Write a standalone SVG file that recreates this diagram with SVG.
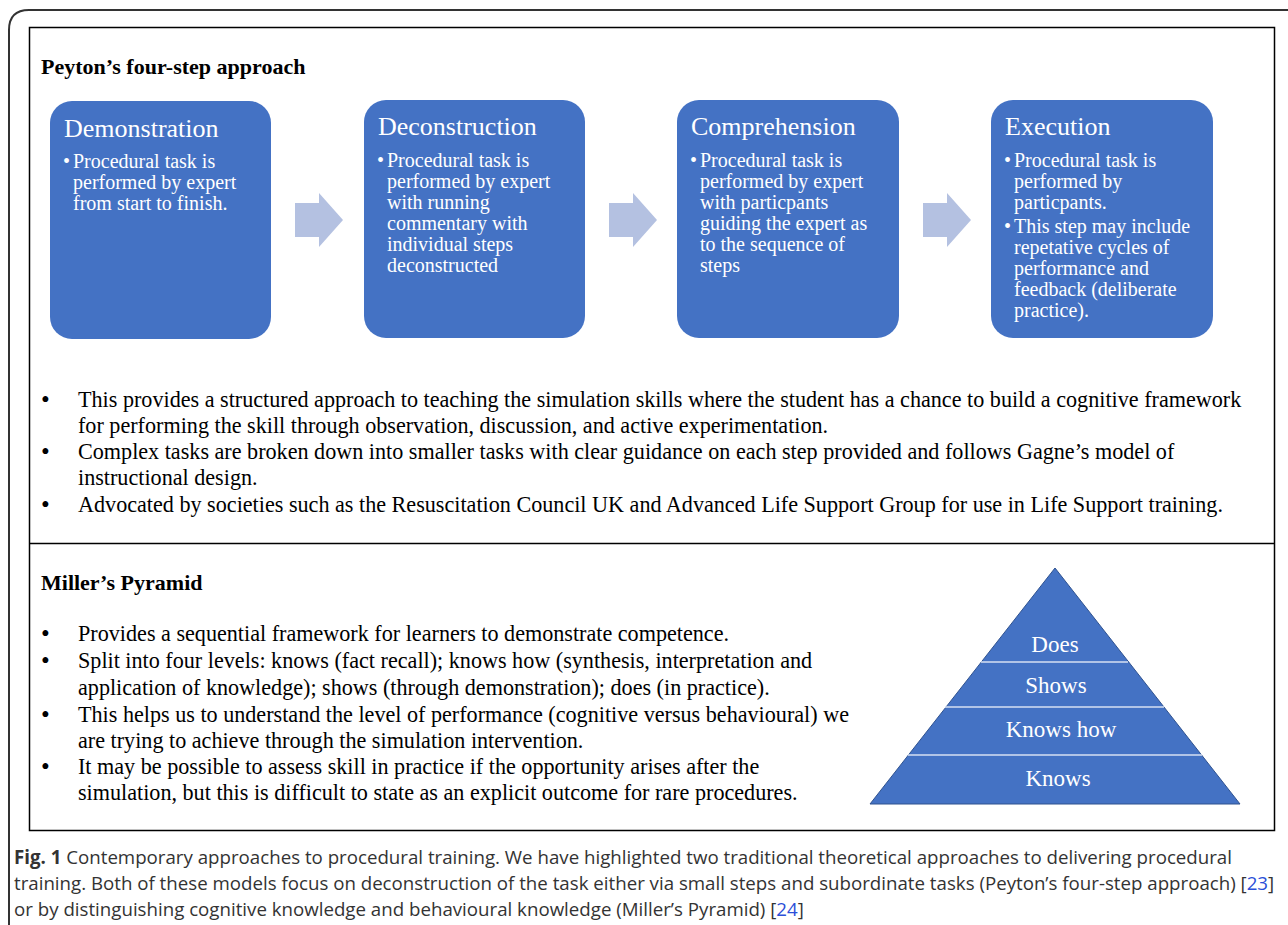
<svg xmlns="http://www.w3.org/2000/svg" width="1288" height="925" viewBox="0 0 1288 925">
<defs>
<style>
.box{fill:#4472C4;}
.arrow{fill:#B4C1E1;}
.bt{font-family:"Liberation Serif",serif;fill:#fff;}
.title{font-size:26px;}
.body{font-size:20px;}
.main{font-family:"Liberation Serif",serif;font-size:22.15px;fill:#000;}
.dot{font-size:25px;}
.head{font-family:"Liberation Serif",serif;font-size:22px;font-weight:bold;fill:#000;}
.cap{font-family:"Open Sans","Noto Sans",sans-serif;font-size:18.7px;fill:#333;}
.ref{fill:#2b4fd8;}
.pyr{font-family:"Liberation Serif",serif;font-size:23px;fill:#fff;text-anchor:middle;}
</style>
</defs>
<rect width="1288" height="925" fill="#fff"/>
<path d="M9,925 V30 Q9,10 29,10 H1290" fill="none" stroke="#333" stroke-width="2"/>
<rect x="29.5" y="27.5" width="1245" height="803" fill="none" stroke="#000" stroke-width="1.5"/>
<line x1="29.5" y1="543.5" x2="1274.5" y2="543.5" stroke="#000" stroke-width="1.5"/>

<text class="head" x="41" y="74">Peyton’s four-step approach</text>

<g id="connectors">
<path class="arrow" d="M295,203 H319 V193 L343,220 L319,247 V237 H295 Z"/>
<path class="arrow" d="M609,203 H633 V193 L657,220 L633,247 V237 H609 Z"/>
<path class="arrow" d="M923,203 H947 V193 L971,220 L947,247 V237 H923 Z"/>
</g>

<g id="demonstration">
<rect class="box" x="50" y="101" width="221" height="238" rx="22"/>
<text class="bt title" x="64" y="137">Demonstration</text>
<text class="bt body" x="63" y="168">•</text>
<text class="bt body"><tspan x="73" y="168">Procedural task is</tspan><tspan x="73" y="189">performed by expert</tspan><tspan x="73" y="210">from start to finish.</tspan></text>
</g>

<g id="deconstruction">
<rect class="box" x="364" y="100" width="221" height="238" rx="22"/>
<text class="bt title" x="378" y="135">Deconstruction</text>
<text class="bt body" x="377" y="167">•</text>
<text class="bt body"><tspan x="387" y="167">Procedural task is</tspan><tspan x="387" y="188">performed by expert</tspan><tspan x="387" y="209">with running</tspan><tspan x="387" y="230">commentary with</tspan><tspan x="387" y="251">individual steps</tspan><tspan x="387" y="272">deconstructed</tspan></text>
</g>

<g id="comprehension">
<rect class="box" x="677" y="100" width="222" height="238" rx="22"/>
<text class="bt title" x="691" y="135">Comprehension</text>
<text class="bt body" x="690" y="167">•</text>
<text class="bt body"><tspan x="700" y="167">Procedural task is</tspan><tspan x="700" y="188">performed by expert</tspan><tspan x="700" y="209">with particpants</tspan><tspan x="700" y="230">guiding the expert as</tspan><tspan x="700" y="251">to the sequence of</tspan><tspan x="700" y="272">steps</tspan></text>
</g>

<g id="execution">
<rect class="box" x="991" y="100" width="222" height="238" rx="22"/>
<text class="bt title" x="1005" y="135">Execution</text>
<text class="bt body" x="1004" y="167">•</text>
<text class="bt body"><tspan x="1014" y="167">Procedural task is</tspan><tspan x="1014" y="188">performed by</tspan><tspan x="1014" y="209">particpants.</tspan></text>
<text class="bt body" x="1004" y="233">•</text>
<text class="bt body"><tspan x="1014" y="233">This step may include</tspan><tspan x="1014" y="254">repetative cycles of</tspan><tspan x="1014" y="275">performance and</tspan><tspan x="1014" y="296">feedback (deliberate</tspan><tspan x="1014" y="317">practice).</tspan></text>
</g>

<g id="peyton-bullets" class="main">
<text class="dot" x="41" y="408">•</text>
<text x="78" y="407">This provides a structured approach to teaching the simulation skills where the student has a chance to build a cognitive framework</text>
<text x="78" y="433">for performing the skill through observation, discussion, and active experimentation.</text>
<text class="dot" x="41" y="460">•</text>
<text x="78" y="459">Complex tasks are broken down into smaller tasks with clear guidance on each step provided and follows Gagne’s model of</text>
<text x="78" y="485">instructional design.</text>
<text class="dot" x="41" y="513">•</text>
<text x="78" y="512">Advocated by societies such as the Resuscitation Council UK and Advanced Life Support Group for use in Life Support training.</text>
</g>

<text class="head" x="41" y="590">Miller’s Pyramid</text>

<g id="miller-bullets" class="main">
<text class="dot" x="41" y="642">•</text>
<text x="78" y="641">Provides a sequential framework for learners to demonstrate competence.</text>
<text class="dot" x="41" y="669">•</text>
<text x="78" y="668">Split into four levels: knows (fact recall); knows how (synthesis, interpretation and</text>
<text x="78" y="695">application of knowledge); shows (through demonstration); does (in practice).</text>
<text class="dot" x="41" y="723">•</text>
<text x="78" y="722">This helps us to understand the level of performance (cognitive versus behavioural) we</text>
<text x="78" y="748">are trying to achieve through the simulation intervention.</text>
<text class="dot" x="41" y="775">•</text>
<text x="78" y="774">It may be possible to assess skill in practice if the opportunity arises after the</text>
<text x="78" y="800">simulation, but this is difficult to state as an explicit outcome for rare procedures.</text>
</g>

<g id="pyramid">
<polygon points="1055,568 870,804 1240,804" fill="#4472C4" stroke="#2F528F" stroke-width="1"/>
<line x1="981" y1="662" x2="1128" y2="662" stroke="#D6E0F3" stroke-width="1.5"/>
<line x1="945" y1="707" x2="1164" y2="707" stroke="#D6E0F3" stroke-width="1.5"/>
<line x1="908" y1="755" x2="1202" y2="755" stroke="#D6E0F3" stroke-width="1.5"/>
<text class="pyr" x="1055" y="652">Does</text>
<text class="pyr" x="1056" y="693">Shows</text>
<text class="pyr" x="1061" y="737">Knows how</text>
<text class="pyr" x="1058" y="786">Knows</text>
</g>

<g id="caption" class="cap">
<text x="14" y="864"><tspan font-weight="bold">Fig. 1</tspan> Contemporary approaches to procedural training. We have highlighted two traditional theoretical approaches to delivering procedural</text>
<text x="14" y="890">training. Both of these models focus on deconstruction of the task either via small steps and subordinate tasks (Peyton’s four-step approach) [<tspan class="ref">23</tspan>]</text>
<text x="14" y="916">or by distinguishing cognitive knowledge and behavioural knowledge (Miller’s Pyramid) [<tspan class="ref">24</tspan>]</text>
</g>
</svg>
